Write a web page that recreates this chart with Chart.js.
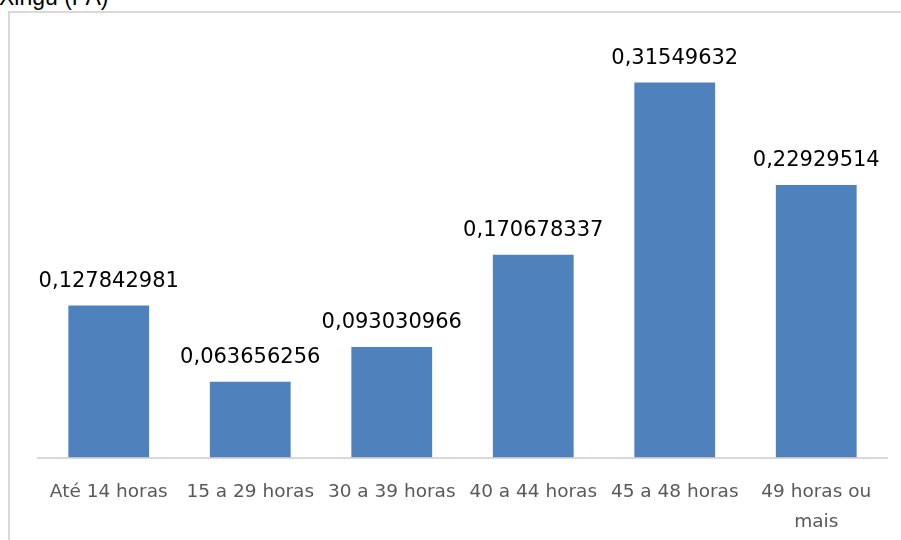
<!DOCTYPE html>
<html>
<head>
<meta charset="utf-8">
<script src="https://cdn.jsdelivr.net/npm/chart.js@4/dist/chart.umd.min.js"></script>
<style>
  html, body { margin: 0; padding: 0; background: #fff; }
  #wrap { position: relative; width: 901px; height: 540px; overflow: hidden; background: #fff; }
  #frame { position: absolute; left: 8px; top: 11px; width: 1000px; height: 1000px;
           border: 2px solid #d9d9d9; box-sizing: border-box; }
  #title { position: absolute; left: -1px; top: -14px; font: 23px "Liberation Sans", Arial, sans-serif;
           line-height: 23px; color: #000; white-space: nowrap; }
  canvas { position: absolute; left: 0; top: 0; }
</style>
</head>
<body>
<div id="wrap">
  <div id="frame"></div>
  <div id="title">Xingu (PA)</div>
  <canvas id="c" width="901" height="540"></canvas>
</div>
<script>
// Weekly working hours classes and their shares
const categories = [
  'Até 14 horas',
  '15 a 29 horas',
  '30 a 39 horas',
  '40 a 44 horas',
  '45 a 48 horas',
  ['49 horas ou', 'mais']
];
const shares = [0.127842981, 0.063656256, 0.093030966, 0.170678337, 0.31549632, 0.22929514];

// Writes the value of each bar above it, with a decimal comma
const valueLabels = {
  id: 'valueLabels',
  afterDatasetsDraw(chart) {
    const ctx = chart.ctx;
    const meta = chart.getDatasetMeta(0);
    ctx.save();
    ctx.font = '21px "DejaVu Sans", sans-serif';
    ctx.fillStyle = '#000';
    ctx.textAlign = 'center';
    ctx.textBaseline = 'alphabetic';
    meta.data.forEach((bar, i) => {
      const txt = String(chart.data.datasets[0].data[i]).replace('.', ',');
      ctx.fillText(txt, bar.x, bar.y - 19);
    });
    ctx.restore();
  }
};

new Chart(document.getElementById('c'), {
  type: 'bar',
  data: {
    labels: categories,
    datasets: [{
      data: shares,
      backgroundColor: '#4f81bd',
      borderWidth: 0,
      barPercentage: 0.571,
      categoryPercentage: 1.0
    }]
  },
  options: {
    responsive: false,
    animation: false,
    layout: { padding: { left: 38, right: 14, top: 41.5, bottom: 0 } },
    plugins: {
      legend: { display: false },
      tooltip: { enabled: false },
      title: { display: false }
    },
    scales: {
      y: { display: false, min: 0, max: 0.35 },
      x: {
        grid: { display: false, drawTicks: false, tickLength: 0 },
        border: { display: true, color: '#d9d9d9', width: 2 },
        ticks: {
          color: '#595959',
          font: { family: '"DejaVu Sans", sans-serif', size: 18.5, lineHeight: 1.6 },
          padding: 20,
          maxRotation: 0,
          minRotation: 0,
          autoSkip: false
        },
        afterFit(scale) { scale.height = 82.5; }
      }
    }
  },
  plugins: [valueLabels]
});
</script>
</body>
</html>
